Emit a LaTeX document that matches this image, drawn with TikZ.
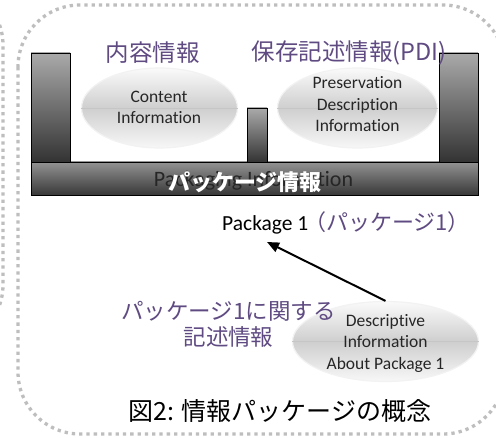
\documentclass[tikz,border=0pt]{standalone}
\usepackage{fontspec}
\setmainfont{Carlito}[Ligatures=NoCommon]
\newfontfamily\jp{Noto Sans CJK JP}
\usetikzlibrary{shapes.geometric,arrows.meta}
\definecolor{purp}{RGB}{95,75,130}
\definecolor{dotgray}{RGB}{190,190,190}
\begin{document}
\begin{tikzpicture}[x=1pt,y=-1pt,
  dotframe/.style={draw=dotgray, line width=3.3pt, dash pattern=on 3.3pt off 4pt},
  tallbar/.style={top color=gray!67, bottom color=black!80, draw=black, line width=0.8pt},
  basebar/.style={top color=gray!85, bottom color=black!78, draw=black, line width=0.8pt},
  lens/.style={ellipse, inner sep=0pt, top color=gray!4, bottom color=gray!6, middle color=gray!38, draw=gray!10, line width=1.2pt},
  entext/.style={font=\fontsize{17.5}{21.5}\selectfont, text=black!85, align=center},
  jptitle/.style={font=\jp\fontsize{22.5}{25.5}\selectfont, text=purp, align=center},
  arrowline/.style={-{Triangle[length=12pt,width=10pt]}, line width=2pt, black}
]
\useasboundingbox (0,0) rectangle (496,438);
\clip (0,0) rectangle (496,438);
\fill[white] (0,0) rectangle (496,438);

% dotted frames
\draw[dotframe, rounded corners=62pt] (18,5) rectangle (505,434);
\draw[dotframe, rounded corners=60pt] (-300,-15) rectangle (3,345);

% bars
\shade[basebar] (31,162) rectangle (478,195);
\shade[tallbar] (31,53) rectangle (70,162);
\shade[tallbar] (439,53) rectangle (478,162);
\shade[tallbar] (247,108) rectangle (267,162);

% ellipses
\node[lens, minimum width=156pt, minimum height=80pt] (ce) at (159.5,108) {};
\draw[gray!45, line width=0.5pt] (ce.west) -- (ce.east);
\node[entext] (cet) at (159,107.5) {Content\\Information};

\node[lens, minimum width=160pt, minimum height=80pt] (pe) at (357.5,108) {};
\draw[gray!45, line width=0.5pt] (pe.west) -- (pe.east);
\node[entext] (pet) at (357.5,104.5) {Preservation\\Description\\Information};

\node[lens, minimum width=186pt, minimum height=80pt] (de) at (385.5,341.5) {};
\draw[gray!45, line width=0.5pt] (de.west) -- (de.east);
\node[entext] (det) at (385.5,343) {Descriptive\\Information\\About Package 1};

% titles
\node[jptitle, font=\jp\fontsize{23.5}{26}\selectfont] (ct) at (152.5,53) {内容情報};
\node[jptitle, font=\jp\fontsize{23.5}{26}\selectfont] (pt) at (349,53) {保存記述情報(PDI)};

% packaging information
\node[font=\fontsize{22}{26}\selectfont, text=black!85] (pkgi) at (253.5,181) {Packaging Information};
\node[font=\jp\bfseries\fontsize{22}{26}\selectfont, text=white] (pkgj) at (245,182.5) {パッケージ情報};

% package 1 label
\node[font=\fontsize{21.5}{25}\selectfont, anchor=base west, inner sep=0pt] (pk) at (222,231) {Package 1};
\node[font=\jp\fontsize{22}{25}\selectfont, text=purp, anchor=base west, inner sep=0pt] (pkj) at (304,231) {（パッケージ1）};

% descriptive label
\node[jptitle] (dl) at (228.5,324.5) {パッケージ1に関する\\記述情報};

% arrow
\coordinate (tip) at (267,242);
\draw[arrowline] (de.north) -- (tip);

% caption
\node[font=\jp\fontsize{25}{28}\selectfont, text=black] (cap) at (280,411.5) {図2: 情報パッケージの概念};
\end{tikzpicture}
\end{document}
